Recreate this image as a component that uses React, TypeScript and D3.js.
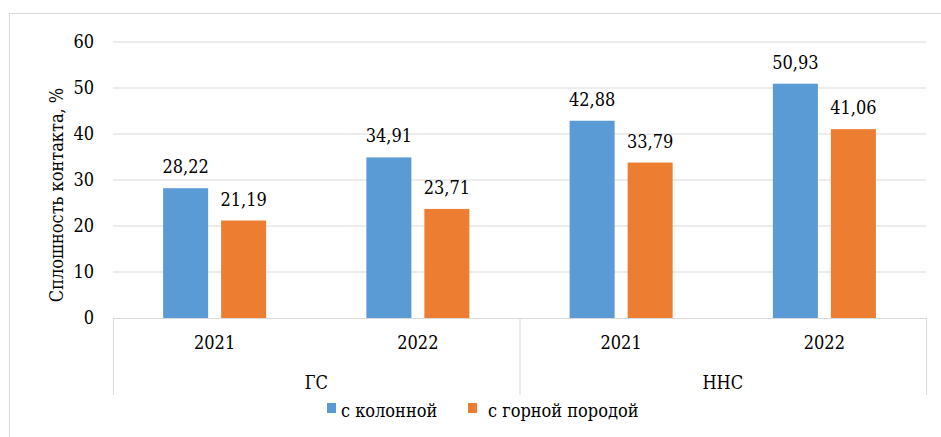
import React from "react";
import * as d3 from "d3";

const groups = ["ГС", "ННС"];
const years = ["2021", "2022"];
const categories = ["ГС-2021", "ГС-2022", "ННС-2021", "ННС-2022"];
const seriesNames = ["с колонной", "с горной породой"];
const colValues = [28.22, 34.91, 42.88, 50.93];
const rockValues = [21.19, 23.71, 33.79, 41.06];
const yTicks = [0, 10, 20, 30, 40, 50, 60];
const colors = ["#5B9BD5", "#ED7D31"];

const W = 941, H = 437;
const left = 113, right = 926, top = 42, bottom = 318;
const font = "'DejaVu Serif Condensed', 'DejaVu Serif', serif";

export default function App() {
  const x = d3.scaleBand<string>().domain(categories).range([left, right]).paddingInner(0).paddingOuter(0);
  const inner = d3.scaleBand<string>().domain(seriesNames).range([0, x.bandwidth()]).paddingInner(0.224).paddingOuter(0.864);
  const y = d3.scaleLinear().domain([0, 60]).range([bottom, top]);
  const fmt = (v: number) => v.toFixed(2).replace(".", ",");
  const series = [colValues, rockValues];
  const fs = 18;
  return (
    <svg width={W} height={H} style={{ position: "fixed", left: 0, top: 0, background: "#fff" }} fontFamily={font}>
      <rect x={9.5} y={13.5} width={W} height={H} fill="#fff" stroke="#d9d9d9" />
      {yTicks.map((t) => (
        <g key={t}>
          {t > 0 && <line x1={left} x2={right} y1={y(t)} y2={y(t)} stroke="#d9d9d9" strokeWidth={1} />}
          <text x={94} y={y(t)} dy="0.35em" textAnchor="end" fontSize={fs} fill="#000">{t}</text>
        </g>
      ))}
      {categories.map((c, i) =>
        series.map((vals, s) => {
          const bx = (x(c) as number) + (inner(seriesNames[s]) as number);
          const v = vals[i];
          return (
            <g key={c + s}>
              <rect x={bx} y={y(v)} width={inner.bandwidth()} height={bottom - y(v)} fill={colors[s]} />
              <text x={bx + inner.bandwidth() / 2} y={y(v) - 15} textAnchor="middle" fontSize={fs} fill="#000">{fmt(v)}</text>
            </g>
          );
        })
      )}
      <line x1={left} x2={right} y1={bottom + 0.5} y2={bottom + 0.5} stroke="#d9d9d9" />
      {[0, 2, 4].map((k) => {
        const xx = k === 4 ? right : (x(categories[k]) as number);
        return <line key={k} x1={xx + 0.5} x2={xx + 0.5} y1={bottom} y2={395} stroke="#d9d9d9" />;
      })}
      {categories.map((c, i) => (
        <text key={c} x={(x(c) as number) + x.bandwidth() / 2} y={349} textAnchor="middle" fontSize={fs} fill="#000">{years[i % 2]}</text>
      ))}
      {groups.map((g, gi) => (
        <text key={g} x={(x(categories[gi * 2]) as number) + x.bandwidth()} y={389} textAnchor="middle" fontSize={fs} fill="#000">{g}</text>
      ))}
      <text transform={`translate(63,${(top + bottom) / 2 + 15}) rotate(-90)`} textAnchor="middle" fontSize={fs} fill="#000">Сплошность контакта, %</text>
      {seriesNames.map((n, s) => {
        const lx = s === 0 ? 327 : 468;
        return (
          <g key={n}>
            <rect x={lx} y={403} width={9} height={10} fill={colors[s]} />
            <text x={lx + (s === 0 ? 14 : 20)} y={417} fontSize={fs} fill="#000">{n}</text>
          </g>
        );
      })}
    </svg>
  );
}
